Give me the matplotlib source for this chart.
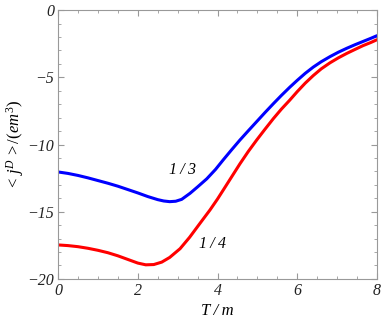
import matplotlib
matplotlib.use('Agg')
import matplotlib.pyplot as plt
from matplotlib.ticker import MultipleLocator

# values
t_blue = [0, 0.25, 0.5, 0.75, 1, 1.25, 1.5, 1.75, 2, 2.25, 2.5, 2.65, 2.8, 2.95, 3.1, 3.31,
          3.5, 3.73, 3.95, 4.14, 4.35, 4.56, 4.77, 4.98, 5.19, 5.4, 5.6, 5.81, 6.0, 6.2,
          6.4, 6.6, 6.82, 7.03, 7.24, 7.45, 7.65, 7.85, 8]
j_blue = [-12.04, -12.15, -12.3, -12.48, -12.68, -12.88, -13.1, -13.35, -13.6, -13.87, -14.1,
          -14.2, -14.25, -14.22, -14.08, -13.63, -13.15, -12.55, -11.85, -11.15, -10.4,
          -9.67, -8.98, -8.3, -7.62, -6.96, -6.35, -5.74, -5.22, -4.7, -4.24, -3.84, -3.46,
          -3.13, -2.84, -2.57, -2.33, -2.09, -1.9]

t_red = [0, 0.25, 0.5, 0.75, 1, 1.25, 1.5, 1.75, 2, 2.2, 2.4, 2.6, 2.8, 3.06, 3.3, 3.55,
         3.81, 4.0, 4.14, 4.35, 4.56, 4.77, 4.98, 5.19, 5.4, 5.6, 5.81, 6.0, 6.2, 6.4, 6.6,
         6.82, 7.03, 7.24, 7.45, 7.65, 7.85, 8]
j_red = [-17.47, -17.52, -17.6, -17.72, -17.87, -18.05, -18.28, -18.55, -18.82, -18.95,
         -18.93, -18.75, -18.4, -17.75, -16.9, -15.9, -14.87, -14.05, -13.4, -12.42,
         -11.44, -10.52, -9.67, -8.86, -8.07, -7.37, -6.7, -6.06, -5.43, -4.87, -4.37,
         -3.92, -3.55, -3.22, -2.92, -2.64, -2.4, -2.2]

plt.rcParams['font.family'] = ['Liberation Serif', 'DejaVu Serif']
plt.rcParams['mathtext.fontset'] = 'custom'
plt.rcParams['mathtext.rm'] = 'Liberation Serif'
plt.rcParams['mathtext.it'] = 'Liberation Serif:italic'

fig = plt.figure(figsize=(3.82, 3.27), dpi=100)
ax = fig.add_axes([0.152, 0.147, 0.835, 0.822])

ax.plot(t_blue, j_blue, color='#0000ff', linewidth=2.2, solid_capstyle='round',
        solid_joinstyle='round')
ax.plot(t_red, j_red, color='#ff0000', linewidth=2.2, solid_capstyle='round',
        solid_joinstyle='round')

ax.text(3.13, -11.9, '1\u2009/\u20093', fontsize=11.5, style='italic', ha='center', va='center')
ax.text(3.88, -17.4, '1\u2009/\u20094', fontsize=11.5, style='italic', ha='center', va='center')

ax.set_xlim(0, 8)
ax.set_ylim(-20, 0)
ax.xaxis.set_major_locator(MultipleLocator(2))
ax.xaxis.set_minor_locator(MultipleLocator(0.5))
ax.yaxis.set_major_locator(MultipleLocator(5))
ax.yaxis.set_minor_locator(MultipleLocator(1))
ax.tick_params(which='both', direction='in', top=True, right=True, color='#999999',
               labelsize=11.5, labelcolor='#222222')
ax.tick_params(which='major', length=4, width=0.8, pad=3)
ax.tick_params(which='minor', length=2, width=0.6)
for lbl in ax.get_xticklabels() + ax.get_yticklabels():
    lbl.set_style('italic')
for s in ax.spines.values():
    s.set_color('#999999')
    s.set_linewidth(0.8)

ax.set_xlabel('T\u2009/\u2009m', fontsize=12, style='italic', labelpad=3)
ax.set_ylabel(r'$<\,j^D\,>/(em^3)$', fontsize=12, labelpad=1)

fig.savefig('out.png', dpi=100)
